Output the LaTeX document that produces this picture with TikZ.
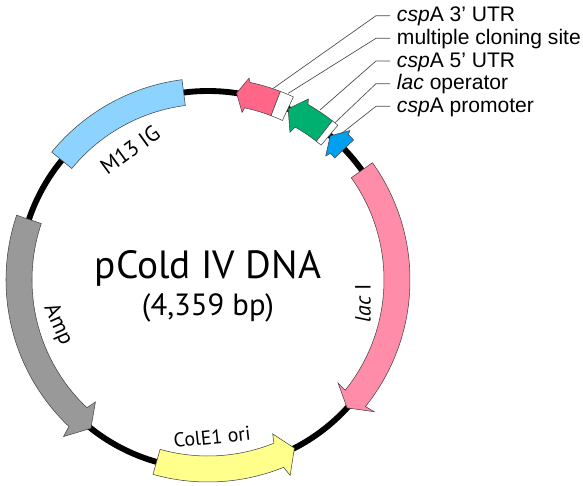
\documentclass[tikz,border=0pt]{standalone}
\usepackage{fontspec}
\setmainfont{Liberation Sans}
\newfontfamily\plasfont{PT Sans}
\definecolor{lacpink}{HTML}{FF8CA8}
\definecolor{mblue}{HTML}{8CD3FF}
\definecolor{ampgrey}{HTML}{999999}
\definecolor{oriyellow}{HTML}{FFFF8C}
\definecolor{utrpink}{HTML}{FF6688}
\definecolor{utrgreen}{HTML}{00B070}
\definecolor{promblue}{HTML}{00A0F0}
\definecolor{edge}{HTML}{444444}
\tikzset{
  x=0.75pt,y=0.75pt,
  feature/.style={draw=edge,line width=0.4pt,line join=miter},
  leader/.style={draw=black!70,line width=0.5pt},
  sitelabel/.style={anchor=base west,inner sep=0pt,font=\fontsize{15.8pt}{15.8pt}\selectfont},
  onmap/.style={inner sep=0pt,font=\plasfont\fontsize{16.5pt}{16.5pt}\selectfont}
}
% #1 colour, #2 start angle, #3 body end, #4 barb angle, #5 tip angle, #6 outer barb radius, #7 inner barb radius
\newcommand{\genearrow}[7]{%
  \path[feature,fill=#1] (#2:202) arc[start angle=#2,end angle=#3,radius=202]
    -- (#4:#6) -- (#5:189) -- (#4:#7) -- (#3:176)
    arc[start angle=#3,end angle=#2,radius=176] -- cycle;}
\newcommand{\genebox}[3]{%
  \path[feature,fill=#1] (#2:202) arc[start angle=#2,end angle=#3,radius=202]
    -- (#3:176) arc[start angle=#3,end angle=#2,radius=176] -- cycle;}
\begin{document}
\begin{tikzpicture}
\useasboundingbox (0,0) rectangle (583,486);
\fill[white] (0,0) rectangle (583,486);
\begin{scope}[shift={(208,206)}]
  \draw[line width=4.4pt] (0,0) circle[radius=189];
  \genebox{mblue}{97.4}{140.7}
  \genearrow{lacpink}{35.5}{-38.8}{-38.4}{-42.6}{212}{166}
  \genearrow{ampgrey}{161.3}{226.5}{227.3}{231.7}{213}{166}
  \genearrow{oriyellow}{254.2}{292}{292.8}{297.2}{212}{167}
  \genearrow{utrpink}{69}{78}{78.5}{81.3}{206}{171}
  \genebox{white}{69}{65}
  \genearrow{utrgreen}{52}{60.3}{61}{64.9}{207}{169}
  \genebox{white}{52}{50}
  \genearrow{promblue}{43.9}{46}{46.5}{49.7}{206}{171}
\end{scope}
\node[onmap,font=\plasfont\fontsize{29.5pt}{29.5pt}\selectfont] (title) at (208,218) {pCold IV DNA};
\node[onmap,font=\plasfont\fontsize{23pt}{23pt}\selectfont] (size) at (208,178) {(4,359 bp)};
\node[onmap,rotate=36] (m13) at (130,336) {M13 IG};
\node[onmap,rotate=90] (lacI) at (363,183) {\textit{lac} I};
\node[onmap,rotate=-66] (amp) at (58,161) {Amp};
\node[onmap,rotate=6,font=\plasfont\fontsize{15pt}{15pt}\selectfont] (ori) at (212,49) {ColE1 ori};
\node[sitelabel] (l1) at (396.7,464) {\textit{csp}A 3’ UTR};
\node[sitelabel] (l2) at (396.7,441) {multiple cloning site};
\node[sitelabel] (l3) at (396.7,418.5) {\textit{csp}A 5’ UTR};
\node[sitelabel] (l4) at (396.7,396) {\textit{lac} operator};
\node[sitelabel] (l5) at (396.7,373) {\textit{csp}A promoter};
\coordinate (e1) at (273.3,397.7); \coordinate (k1) at (376,470.3); \coordinate (t1) at (390,470.3);
\coordinate (e2) at (288.3,392.7); \coordinate (k2) at (376,447.7); \coordinate (t2) at (390,447.7);
\coordinate (e3) at (320,376);     \coordinate (k3) at (376,425);   \coordinate (t3) at (390,425);
\coordinate (e4) at (335,363.3);   \coordinate (k4) at (376,402.3); \coordinate (t4) at (390,402.3);
\coordinate (e5) at (341.7,352.7); \coordinate (k5) at (376,379.7); \coordinate (t5) at (390,379.7);
\draw[leader] (e1) -- (k1) -- (t1);
\draw[leader] (e2) -- (k2) -- (t2);
\draw[leader] (e3) -- (k3) -- (t3);
\draw[leader] (e4) -- (k4) -- (t4);
\draw[leader] (e5) -- (k5) -- (t5);
\end{tikzpicture}
\end{document}
